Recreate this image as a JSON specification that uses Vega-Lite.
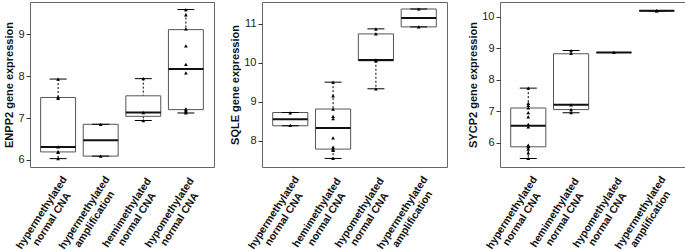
{
  "$schema": "https://vega.github.io/schema/vega-lite/v6.json",
  "padding": {"left": 3, "top": 1, "right": 0, "bottom": 0},
  "background": "white",
  "bounds": "flush",
  "spacing": 48,
  "datasets": {
    "boxes": [
      {"gene": "ENPP2", "group": "hypermethylated normal CNA", "lower": 6.03, "q1": 6.19, "median": 6.31, "q3": 7.49, "upper": 7.93},
      {"gene": "ENPP2", "group": "hypermethylated amplification", "lower": 6.09, "q1": 6.09, "median": 6.47, "q3": 6.85, "upper": 6.85},
      {"gene": "ENPP2", "group": "hemimethylated normal CNA", "lower": 6.94, "q1": 7.04, "median": 7.13, "q3": 7.53, "upper": 7.94},
      {"gene": "ENPP2", "group": "hypomethylated normal CNA", "lower": 7.12, "q1": 7.2, "median": 8.17, "q3": 9.11, "upper": 9.59},
      {"gene": "SQLE", "group": "hypermethylated normal CNA", "lower": 8.38, "q1": 8.38, "median": 8.55, "q3": 8.72, "upper": 8.72},
      {"gene": "SQLE", "group": "hemimethylated normal CNA", "lower": 7.54, "q1": 7.78, "median": 8.32, "q3": 8.81, "upper": 9.5},
      {"gene": "SQLE", "group": "hypomethylated normal CNA", "lower": 9.33, "q1": 10.05, "median": 10.07, "q3": 10.74, "upper": 10.87},
      {"gene": "SQLE", "group": "hypermethylated amplification", "lower": 10.92, "q1": 10.92, "median": 11.15, "q3": 11.38, "upper": 11.38},
      {"gene": "SYCP2", "group": "hypermethylated normal CNA", "lower": 5.5, "q1": 5.87, "median": 6.54, "q3": 7.1, "upper": 7.73},
      {"gene": "SYCP2", "group": "hemimethylated normal CNA", "lower": 6.95, "q1": 7.05, "median": 7.2, "q3": 8.82, "upper": 8.92},
      {"gene": "SYCP2", "group": "hypomethylated normal CNA", "lower": 8.86, "q1": 8.86, "median": 8.86, "q3": 8.86, "upper": 8.86},
      {"gene": "SYCP2", "group": "hypermethylated amplification", "lower": 10.18, "q1": 10.18, "median": 10.18, "q3": 10.18, "upper": 10.18}
    ],
    "points": [
      {"gene": "ENPP2", "group": "hypermethylated normal CNA", "value": 7.93},
      {"gene": "ENPP2", "group": "hypermethylated normal CNA", "value": 7.5},
      {"gene": "ENPP2", "group": "hypermethylated normal CNA", "value": 7.47},
      {"gene": "ENPP2", "group": "hypermethylated normal CNA", "value": 6.31},
      {"gene": "ENPP2", "group": "hypermethylated normal CNA", "value": 6.2},
      {"gene": "ENPP2", "group": "hypermethylated normal CNA", "value": 6.18},
      {"gene": "ENPP2", "group": "hypermethylated normal CNA", "value": 6.03},
      {"gene": "ENPP2", "group": "hypermethylated amplification", "value": 6.85},
      {"gene": "ENPP2", "group": "hypermethylated amplification", "value": 6.09},
      {"gene": "ENPP2", "group": "hemimethylated normal CNA", "value": 7.94},
      {"gene": "ENPP2", "group": "hemimethylated normal CNA", "value": 7.13},
      {"gene": "ENPP2", "group": "hemimethylated normal CNA", "value": 6.94},
      {"gene": "ENPP2", "group": "hypomethylated normal CNA", "value": 9.59},
      {"gene": "ENPP2", "group": "hypomethylated normal CNA", "value": 9.46},
      {"gene": "ENPP2", "group": "hypomethylated normal CNA", "value": 9.13},
      {"gene": "ENPP2", "group": "hypomethylated normal CNA", "value": 8.72},
      {"gene": "ENPP2", "group": "hypomethylated normal CNA", "value": 8.28},
      {"gene": "ENPP2", "group": "hypomethylated normal CNA", "value": 8.08},
      {"gene": "ENPP2", "group": "hypomethylated normal CNA", "value": 7.22},
      {"gene": "ENPP2", "group": "hypomethylated normal CNA", "value": 7.19},
      {"gene": "ENPP2", "group": "hypomethylated normal CNA", "value": 7.15},
      {"gene": "ENPP2", "group": "hypomethylated normal CNA", "value": 7.12},
      {"gene": "SQLE", "group": "hypermethylated normal CNA", "value": 8.71},
      {"gene": "SQLE", "group": "hypermethylated normal CNA", "value": 8.39},
      {"gene": "SQLE", "group": "hemimethylated normal CNA", "value": 9.5},
      {"gene": "SQLE", "group": "hemimethylated normal CNA", "value": 9.15},
      {"gene": "SQLE", "group": "hemimethylated normal CNA", "value": 8.81},
      {"gene": "SQLE", "group": "hemimethylated normal CNA", "value": 8.62},
      {"gene": "SQLE", "group": "hemimethylated normal CNA", "value": 8.56},
      {"gene": "SQLE", "group": "hemimethylated normal CNA", "value": 8.07},
      {"gene": "SQLE", "group": "hemimethylated normal CNA", "value": 7.83},
      {"gene": "SQLE", "group": "hemimethylated normal CNA", "value": 7.78},
      {"gene": "SQLE", "group": "hemimethylated normal CNA", "value": 7.75},
      {"gene": "SQLE", "group": "hemimethylated normal CNA", "value": 7.54},
      {"gene": "SQLE", "group": "hypomethylated normal CNA", "value": 10.87},
      {"gene": "SQLE", "group": "hypomethylated normal CNA", "value": 10.74},
      {"gene": "SQLE", "group": "hypomethylated normal CNA", "value": 10.07},
      {"gene": "SQLE", "group": "hypomethylated normal CNA", "value": 10.05},
      {"gene": "SQLE", "group": "hypomethylated normal CNA", "value": 9.33},
      {"gene": "SQLE", "group": "hypermethylated amplification", "value": 11.38},
      {"gene": "SQLE", "group": "hypermethylated amplification", "value": 10.92},
      {"gene": "SYCP2", "group": "hypermethylated normal CNA", "value": 7.73},
      {"gene": "SYCP2", "group": "hypermethylated normal CNA", "value": 7.25},
      {"gene": "SYCP2", "group": "hypermethylated normal CNA", "value": 7.18},
      {"gene": "SYCP2", "group": "hypermethylated normal CNA", "value": 7.1},
      {"gene": "SYCP2", "group": "hypermethylated normal CNA", "value": 6.95},
      {"gene": "SYCP2", "group": "hypermethylated normal CNA", "value": 6.82},
      {"gene": "SYCP2", "group": "hypermethylated normal CNA", "value": 6.58},
      {"gene": "SYCP2", "group": "hypermethylated normal CNA", "value": 6.5},
      {"gene": "SYCP2", "group": "hypermethylated normal CNA", "value": 5.92},
      {"gene": "SYCP2", "group": "hypermethylated normal CNA", "value": 5.89},
      {"gene": "SYCP2", "group": "hypermethylated normal CNA", "value": 5.87},
      {"gene": "SYCP2", "group": "hypermethylated normal CNA", "value": 5.8},
      {"gene": "SYCP2", "group": "hypermethylated normal CNA", "value": 5.68},
      {"gene": "SYCP2", "group": "hypermethylated normal CNA", "value": 5.5},
      {"gene": "SYCP2", "group": "hemimethylated normal CNA", "value": 8.92},
      {"gene": "SYCP2", "group": "hemimethylated normal CNA", "value": 8.83},
      {"gene": "SYCP2", "group": "hemimethylated normal CNA", "value": 7.2},
      {"gene": "SYCP2", "group": "hemimethylated normal CNA", "value": 7.05},
      {"gene": "SYCP2", "group": "hemimethylated normal CNA", "value": 6.95},
      {"gene": "SYCP2", "group": "hypomethylated normal CNA", "value": 8.86},
      {"gene": "SYCP2", "group": "hypermethylated amplification", "value": 10.18},
      {"gene": "SYCP2", "group": "hypermethylated amplification", "value": 10.19}
    ]
  },
  "hconcat": [
    {
      "width": 184, "height": 165,
      "encoding": {"x": {"field": "group", "type": "nominal", "sort": ["hypermethylated normal CNA", "hypermethylated amplification", "hemimethylated normal CNA", "hypomethylated normal CNA"], "scale": {"paddingInner": 0.18, "paddingOuter": 0.25}, "title": null,
        "axis": {"labelAngle": -57, "labelAlign": "center", "labelBaseline": "bottom", "labelPadding": 48, "labelOffset": -12, "labelFontSize": 10.5, "ticks": false, "domain": false, "labelLineHeight": 12,
          "labelExpr": "[substring(datum.label, 0, indexof(datum.label, ' ')), substring(datum.label, indexof(datum.label, ' ') + 1)]"}}},
      "layer": [
        {"data": {"name": "boxes"}, "transform": [{"filter": "datum.gene === 'ENPP2'"}], "mark": {"type": "rule", "color": "#000", "strokeDash": [2, 2], "strokeWidth": 1}, "encoding": {"y": {"field": "upper", "type": "quantitative", "scale": {"domain": [5.83, 9.77], "nice": false, "zero": false}, "axis": {"values": [6, 7, 8, 9]}, "title": "ENPP2 gene expression"}, "y2": {"field": "q3"}}},
        {"data": {"name": "boxes"}, "transform": [{"filter": "datum.gene === 'ENPP2'"}], "mark": {"type": "rule", "color": "#000", "strokeDash": [2, 2], "strokeWidth": 1}, "encoding": {"y": {"field": "q1", "type": "quantitative"}, "y2": {"field": "lower"}}},
        {"data": {"name": "boxes"}, "transform": [{"filter": "datum.gene === 'ENPP2'"}], "mark": {"type": "bar", "fill": "white", "stroke": "#555", "strokeWidth": 1}, "encoding": {"y": {"field": "q1", "type": "quantitative"}, "y2": {"field": "q3"}}},
        {"data": {"name": "boxes"}, "transform": [{"filter": "datum.gene === 'ENPP2'"}], "mark": {"type": "tick", "color": "#000", "size": 17, "thickness": 1, "opacity": 1}, "encoding": {"y": {"field": "upper", "type": "quantitative"}}},
        {"data": {"name": "boxes"}, "transform": [{"filter": "datum.gene === 'ENPP2'"}], "mark": {"type": "tick", "color": "#000", "size": 17, "thickness": 1, "opacity": 1}, "encoding": {"y": {"field": "lower", "type": "quantitative"}}},
        {"data": {"name": "boxes"}, "transform": [{"filter": "datum.gene === 'ENPP2'"}], "mark": {"type": "tick", "color": "#111", "size": 35, "thickness": 2, "opacity": 1}, "encoding": {"y": {"field": "median", "type": "quantitative"}}},
        {"data": {"name": "points"}, "transform": [{"filter": "datum.gene === 'ENPP2'"}], "mark": {"type": "point", "shape": "triangle-up", "filled": true, "color": "#000", "size": 14, "opacity": 1}, "encoding": {"y": {"field": "value", "type": "quantitative"}}}
      ]
    },
    {
      "bounds": "flush",
      "spacing": 53,
      "hconcat": [
        {
          "width": 185, "height": 165,
          "encoding": {"x": {"field": "group", "type": "nominal", "sort": ["hypermethylated normal CNA", "hemimethylated normal CNA", "hypomethylated normal CNA", "hypermethylated amplification"], "scale": {"paddingInner": 0.18, "paddingOuter": 0.25}, "title": null,
            "axis": {"labelAngle": -57, "labelAlign": "center", "labelBaseline": "bottom", "labelPadding": 48, "labelOffset": -12, "labelFontSize": 10.5, "ticks": false, "domain": false, "labelLineHeight": 12,
              "labelExpr": "[substring(datum.label, 0, indexof(datum.label, ' ')), substring(datum.label, indexof(datum.label, ' ') + 1)]"}}},
          "layer": [
            {"data": {"name": "boxes"}, "transform": [{"filter": "datum.gene === 'SQLE'"}], "mark": {"type": "rule", "color": "#000", "strokeDash": [2, 2], "strokeWidth": 1}, "encoding": {"y": {"field": "upper", "type": "quantitative", "scale": {"domain": [7.32, 11.56], "nice": false, "zero": false}, "axis": {"values": [8, 9, 10, 11]}, "title": "SQLE gene expression"}, "y2": {"field": "q3"}}},
            {"data": {"name": "boxes"}, "transform": [{"filter": "datum.gene === 'SQLE'"}], "mark": {"type": "rule", "color": "#000", "strokeDash": [2, 2], "strokeWidth": 1}, "encoding": {"y": {"field": "q1", "type": "quantitative"}, "y2": {"field": "lower"}}},
            {"data": {"name": "boxes"}, "transform": [{"filter": "datum.gene === 'SQLE'"}], "mark": {"type": "bar", "fill": "white", "stroke": "#555", "strokeWidth": 1}, "encoding": {"y": {"field": "q1", "type": "quantitative"}, "y2": {"field": "q3"}}},
            {"data": {"name": "boxes"}, "transform": [{"filter": "datum.gene === 'SQLE'"}], "mark": {"type": "tick", "color": "#000", "size": 17, "thickness": 1, "opacity": 1}, "encoding": {"y": {"field": "upper", "type": "quantitative"}}},
            {"data": {"name": "boxes"}, "transform": [{"filter": "datum.gene === 'SQLE'"}], "mark": {"type": "tick", "color": "#000", "size": 17, "thickness": 1, "opacity": 1}, "encoding": {"y": {"field": "lower", "type": "quantitative"}}},
            {"data": {"name": "boxes"}, "transform": [{"filter": "datum.gene === 'SQLE'"}], "mark": {"type": "tick", "color": "#111", "size": 35, "thickness": 2, "opacity": 1}, "encoding": {"y": {"field": "median", "type": "quantitative"}}},
            {"data": {"name": "points"}, "transform": [{"filter": "datum.gene === 'SQLE'"}], "mark": {"type": "point", "shape": "triangle-up", "filled": true, "color": "#000", "size": 14, "opacity": 1}, "encoding": {"y": {"field": "value", "type": "quantitative"}}}
          ]
        },
        {
          "width": 185, "height": 165,
          "encoding": {"x": {"field": "group", "type": "nominal", "sort": ["hypermethylated normal CNA", "hemimethylated normal CNA", "hypomethylated normal CNA", "hypermethylated amplification"], "scale": {"paddingInner": 0.18, "paddingOuter": 0.25}, "title": null,
            "axis": {"labelAngle": -57, "labelAlign": "center", "labelBaseline": "bottom", "labelPadding": 48, "labelOffset": -12, "labelFontSize": 10.5, "ticks": false, "domain": false, "labelLineHeight": 12,
              "labelExpr": "[substring(datum.label, 0, indexof(datum.label, ' ')), substring(datum.label, indexof(datum.label, ' ') + 1)]"}}},
          "layer": [
            {"data": {"name": "boxes"}, "transform": [{"filter": "datum.gene === 'SYCP2'"}], "mark": {"type": "rule", "color": "#000", "strokeDash": [2, 2], "strokeWidth": 1}, "encoding": {"y": {"field": "upper", "type": "quantitative", "scale": {"domain": [5.23, 10.46], "nice": false, "zero": false}, "axis": {"values": [6, 7, 8, 9, 10]}, "title": "SYCP2 gene expression"}, "y2": {"field": "q3"}}},
            {"data": {"name": "boxes"}, "transform": [{"filter": "datum.gene === 'SYCP2'"}], "mark": {"type": "rule", "color": "#000", "strokeDash": [2, 2], "strokeWidth": 1}, "encoding": {"y": {"field": "q1", "type": "quantitative"}, "y2": {"field": "lower"}}},
            {"data": {"name": "boxes"}, "transform": [{"filter": "datum.gene === 'SYCP2'"}], "mark": {"type": "bar", "fill": "white", "stroke": "#555", "strokeWidth": 1}, "encoding": {"y": {"field": "q1", "type": "quantitative"}, "y2": {"field": "q3"}}},
            {"data": {"name": "boxes"}, "transform": [{"filter": "datum.gene === 'SYCP2'"}], "mark": {"type": "tick", "color": "#000", "size": 17, "thickness": 1, "opacity": 1}, "encoding": {"y": {"field": "upper", "type": "quantitative"}}},
            {"data": {"name": "boxes"}, "transform": [{"filter": "datum.gene === 'SYCP2'"}], "mark": {"type": "tick", "color": "#000", "size": 17, "thickness": 1, "opacity": 1}, "encoding": {"y": {"field": "lower", "type": "quantitative"}}},
            {"data": {"name": "boxes"}, "transform": [{"filter": "datum.gene === 'SYCP2'"}], "mark": {"type": "tick", "color": "#111", "size": 35, "thickness": 2, "opacity": 1}, "encoding": {"y": {"field": "median", "type": "quantitative"}}},
            {"data": {"name": "points"}, "transform": [{"filter": "datum.gene === 'SYCP2'"}], "mark": {"type": "point", "shape": "triangle-up", "filled": true, "color": "#000", "size": 14, "opacity": 1}, "encoding": {"y": {"field": "value", "type": "quantitative"}}}
          ]
        }
      ]
    }
  ],
  "config": {
    "font": "Liberation Sans",
    "view": {"stroke": "#666", "strokeWidth": 1},
    "axisX": {
      "grid": false, "labelFontWeight": "bold", "labelColor": "#111"
    },
    "axisY": {
      "grid": false, "domain": false, "ticks": true, "tickSize": 4, "tickColor": "#333",
      "labelFontSize": 11, "labelPadding": 2, "labelColor": "#222",
      "titleFontSize": 11, "titleFontWeight": "bold", "titleColor": "#111", "titlePadding": 3
    }
  }
}
